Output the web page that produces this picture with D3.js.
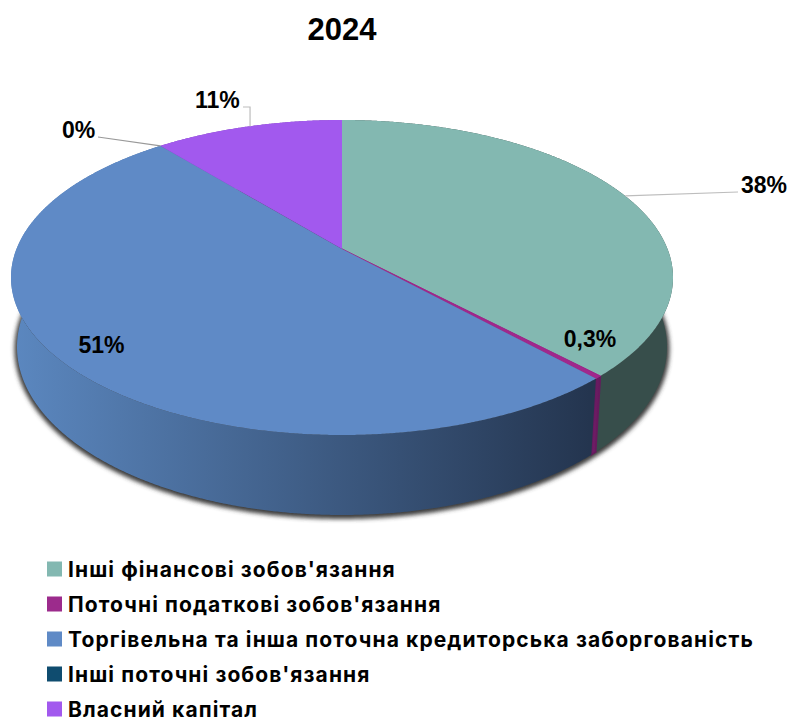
<!DOCTYPE html>
<html><head><meta charset="utf-8">
<script src="https://cdn.jsdelivr.net/npm/d3@7"></script>
<style>html,body{margin:0;padding:0;background:#fff}svg{display:block}text{font-family:"Liberation Sans",Arial,sans-serif;font-weight:700;fill:#000}</style>
</head><body><div id="c"></div>
<script>
const title = "2024";
const categories = ["Інші фінансові зобов'язання","Поточні податкові зобов'язання","Торгівельна та інша поточна кредиторська заборгованість","Інші поточні зобов'язання","Власний капітал"];
const values = [38, 0.3, 51, 0, 11];
const valueLabels = ["38%","0,3%","51%","0%","11%"];
const topColors = ["#83b8b1","#a0288c","#5f8ac6","#0f4c6f","#a259ee"];
const wallLeft = ["#5d8a85","#7a1f6e","#5b87bf","#0c3a55","#7c44b5"];
const wallRight = ["#374e4b","#661a5e","#24354f","#0a2a3f","#4a2a70"];

const W=790,H=720;
const topE={cx:342,cy:277.5,rx:331,ry:157.5};
const lowE={cx:342,cy:347,rx:325,ry:168};
const v0=-0.181; // perspective shift of the pie centre
const labelLayout=[
 {mode:"leader",x:741,y:193,anchor:"start",elbow:false,ex:738,ey:192},
 {mode:"inside",x:590,y:347,anchor:"middle"},
 {mode:"inside",x:101.5,y:353,anchor:"middle"},
 {mode:"leader",x:62,y:138,anchor:"start",elbow:false,ex:98,ey:137},
 {mode:"leader",x:195,y:108,anchor:"start",elbow:true,ex:243,ey:107}
];

const svg=d3.select("#c").append("svg").attr("width",W).attr("height",H).attr("viewBox",`0 0 ${W} ${H}`);
const defs=svg.append("defs");
const blur=defs.append("filter").attr("id","sh").attr("x","-5%").attr("y","-5%").attr("width","110%").attr("height","110%");
blur.append("feGaussianBlur").attr("stdDeviation",2);

function proj(a,e){
  const u=Math.sin(a), v=-Math.cos(a), d=1+v0*v;
  const un=u*Math.sqrt(1-v0*v0)/d, vn=(v+v0)/d;
  return [e.cx+e.rx*un, e.cy+e.ry*vn];
}
const pie=d3.pie().sort(null).value(d=>d).startAngle(0).endAngle(2*Math.PI);
const arcs=pie(values);
const line=d3.line();
function samples(s,e){const n=Math.max(2,Math.ceil((e-s)/0.005));return d3.range(n+1).map(i=>s+(e-s)*i/n);}

// shadow
const full=samples(0,2*Math.PI).map(a=>proj(a,{...lowE,cy:lowE.cy+2,rx:lowE.rx+2.5,ry:lowE.ry+2}));
svg.append("path").attr("d",line(full)+"Z").attr("fill","#3c3c3c").attr("filter","url(#sh)");

// gradients
arcs.forEach((d,i)=>{
  const g=defs.append("linearGradient").attr("id","w"+i).attr("gradientUnits","userSpaceOnUse")
    .attr("x1",i===2?15:i===0?590:585).attr("x2",i===2?590:i===0?670:600).attr("y1",0).attr("y2",0);
  g.append("stop").attr("offset",0).attr("stop-color",i===0?wallRight[i]:wallLeft[i]);
  g.append("stop").attr("offset",1).attr("stop-color",wallRight[i]);
});
// walls
arcs.forEach((d,i)=>{
  if(d.endAngle-d.startAngle<=0)return;
  const as=samples(d.startAngle,d.endAngle);
  const pts=as.map(a=>proj(a,topE)).concat(as.slice().reverse().map(a=>proj(a,lowE)));
  svg.append("path").attr("d",line(pts)+"Z").attr("fill",`url(#w${i})`)
    .attr("stroke",i===1?wallRight[i]:"none").attr("stroke-width",i===1?1.6:0);
});
// top surface
const centre=[topE.cx,topE.cy+topE.ry*v0];
arcs.forEach((d,i)=>{
  if(d.endAngle-d.startAngle<=0)return;
  const pts=[centre].concat(samples(d.startAngle,d.endAngle).map(a=>proj(a,topE)));
  svg.append("path").attr("d",line(pts)+"Z").attr("fill",topColors[i])
    .attr("stroke",i===1?topColors[i]:"none").attr("stroke-width",i===1?1:0);
});
// leader lines and labels
arcs.forEach((d,i)=>{
  const L=labelLayout[i];
  if(L.mode==="leader"){
    const p=proj((d.startAngle+d.endAngle)/2,topE);
    const pts=L.elbow?[[L.ex,L.ey],[p[0]+2,L.ey],[p[0]+2,p[1]]]:[[L.ex,L.ey],p];
    svg.append("path").attr("d",line(pts)).attr("fill","none").attr("stroke",i===3?"#999":"#bdbdbd").attr("stroke-width",1.2);
  }
  svg.append("text").attr("x",L.x).attr("y",L.y).attr("text-anchor",L.anchor).style("font-size","23px").text(valueLabels[i]);
});
svg.append("text").attr("x",342).attr("y",40).attr("text-anchor","middle").style("font-size","31px").text(title);
// legend
const rowY=d3.scalePoint().domain(categories).range([569,709]);
categories.forEach((c,i)=>{
  const y=rowY(c);
  svg.append("rect").attr("x",47).attr("y",y-7.5).attr("width",15).attr("height",15).attr("fill",i===1?"#9c2b8c":topColors[i]);
  svg.append("text").attr("x",68).attr("y",y+7.5).style("font-family","Inter, sans-serif").style("font-size","21px").style("font-weight","700").style("letter-spacing","1.1px").text(c);
});
</script></body></html>
